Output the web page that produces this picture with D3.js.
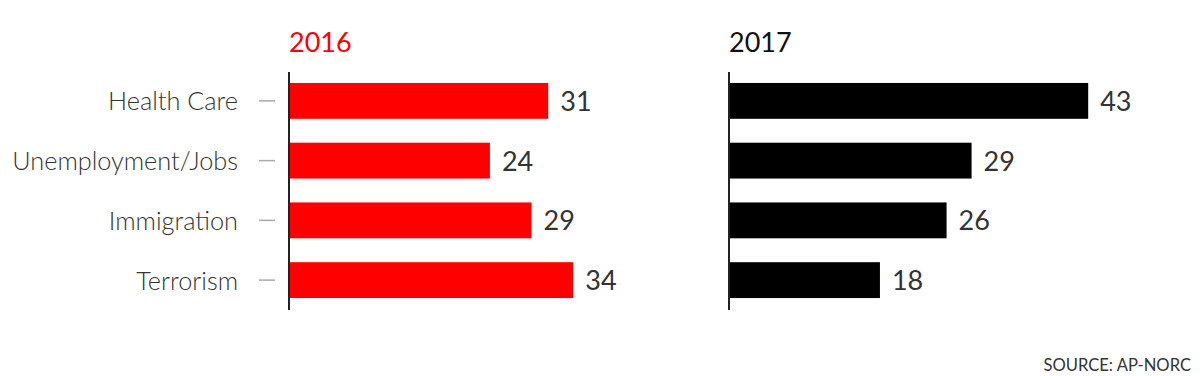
<!DOCTYPE html>
<html>
<head>
<meta charset="utf-8">
<script src="https://cdn.jsdelivr.net/npm/d3@7"></script>
<style>
  body { margin: 0; background: #fff; }
  text { font-family: Lato, "Noto Sans", sans-serif; }
</style>
</head>
<body>
<svg></svg>
<script>
var categories = ["Health Care", "Unemployment/Jobs", "Immigration", "Terrorism"];
var years = ["2016", "2017"];
var values2016 = [31, 24, 29, 34];
var values2017 = [43, 29, 26, 18];
var source = "SOURCE: AP-NORC";

var svgCanvas = d3.select("svg")
    .attr("width", 1200)
    .attr("height", 376);

var yScale = d3.scaleBand()
    .domain(categories)
    .range([71, 310])
    .paddingInner(0.4)
    .paddingOuter(0.2);

var xScale = d3.scaleLinear()
    .domain([0, 50])
    .range([0, 416.5]);

var panels = [
    { year: years[0], values: values2016, x0: 289, color: "#ff0000", titleColor: "#ff0000" },
    { year: years[1], values: values2017, x0: 729, color: "#000000", titleColor: "#111111" }
];

panels.forEach(function(p){
    var g = svgCanvas.append("g").attr("transform", "translate(" + p.x0 + ",0)");

    g.append("text")
        .attr("x", 0)
        .attr("y", 52)
        .attr("fill", p.titleColor)
        .attr("font-size", 27)
        .text(p.year);

    g.selectAll("rect")
        .data(p.values).enter()
        .append("rect")
        .attr("x", 1)
        .attr("y", function(d, i){ return yScale(categories[i]); })
        .attr("width", function(d){ return xScale(d); })
        .attr("height", yScale.bandwidth())
        .attr("fill", p.color);

    g.selectAll("text.value")
        .data(p.values).enter()
        .append("text")
        .attr("class", "value")
        .attr("x", function(d){ return xScale(d) + 13; })
        .attr("y", function(d, i){ return yScale(categories[i]) + yScale.bandwidth() / 2 + 10; })
        .attr("fill", "#333")
        .attr("font-size", 27)
        .text(function(d){ return d; });

    // vertical axis line
    g.append("line")
        .attr("x1", 0).attr("x2", 0)
        .attr("y1", yScale.range()[0] + 1).attr("y2", yScale.range()[1])
        .attr("stroke", "#222")
        .attr("stroke-width", 2);
});

// category labels + small dashes on the left panel only
var left = svgCanvas.append("g").attr("transform", "translate(289,0)");
left.selectAll("line.tick")
    .data(categories).enter()
    .append("line")
    .attr("class", "tick")
    .attr("x1", -30).attr("x2", -14)
    .attr("y1", function(d){ return yScale(d) + yScale.bandwidth() / 2; })
    .attr("y2", function(d){ return yScale(d) + yScale.bandwidth() / 2; })
    .attr("stroke", "#aaa")
    .attr("stroke-width", 1.5);

left.selectAll("text.cat")
    .data(categories).enter()
    .append("text")
    .attr("class", "cat")
    .attr("x", -51)
    .attr("y", function(d){ return yScale(d) + yScale.bandwidth() / 2 + 9.5; })
    .attr("text-anchor", "end")
    .attr("fill", "#333")
    .attr("font-size", 25.3)
    .attr("font-weight", 300)
    .text(function(d){ return d; });

svgCanvas.append("text")
    .attr("x", 1191)
    .attr("y", 371)
    .attr("text-anchor", "end")
    .attr("fill", "#333")
    .attr("font-size", 16.6)
    .text(source);
</script>
</body>
</html>
